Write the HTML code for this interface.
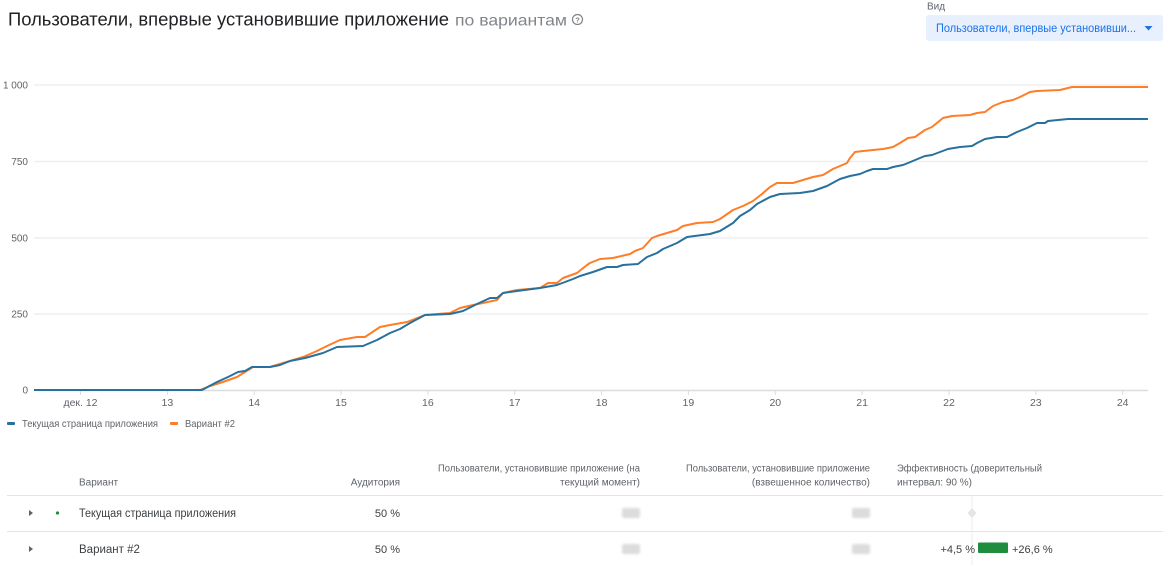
<!DOCTYPE html>
<html><head><meta charset="utf-8"><style>
html,body{margin:0;padding:0;background:#fff;}
svg{display:block;}
text{font-family:"Liberation Sans","Noto Sans CJK SC",sans-serif;}
</style></head><body>
<svg width="1176" height="565" viewBox="0 0 1176 565" xmlns="http://www.w3.org/2000/svg">
<defs><filter id="bl" x="-30%" y="-50%" width="160%" height="200%"><feGaussianBlur stdDeviation="1.2"/></filter></defs>
<rect width="1176" height="565" fill="#fff"/>
<!-- Title -->
<text x="8" y="25.5" font-size="18" fill="#202124" textLength="441" lengthAdjust="spacingAndGlyphs">Пользователи, впервые установившие приложение</text>
<text x="455" y="25.5" font-size="16" fill="#80868b" textLength="112" lengthAdjust="spacingAndGlyphs">по вариантам</text>
<circle cx="577.5" cy="19.5" r="5" fill="none" stroke="#80868b" stroke-width="1.2"/>
<text x="577.5" y="22.5" font-size="7.5" fill="#80868b" text-anchor="middle" font-weight="bold">?</text>
<!-- Dropdown -->
<text x="927" y="9.5" font-size="10" fill="#5f6368">Вид</text>
<rect x="926" y="15" width="237" height="26" rx="3" fill="#e8f0fe"/>
<text x="936" y="32" font-size="11.5" fill="#1a73e8" textLength="200" lengthAdjust="spacingAndGlyphs">Пользователи, впервые установивши...</text>
<path d="M1144.5 26 L1152.5 26 L1148.5 30.5 Z" fill="#1a73e8"/>
<!-- Gridlines -->
<g stroke="#efefef" stroke-width="1.5">
<line x1="34" y1="85" x2="1148" y2="85"/>
<line x1="34" y1="161.5" x2="1148" y2="161.5"/>
<line x1="34" y1="238" x2="1148" y2="238"/>
<line x1="34" y1="314" x2="1148" y2="314"/>
</g>
<line x1="34" y1="390.5" x2="1148" y2="390.5" stroke="#dadce0" stroke-width="1.5"/>
<g stroke="#dadce0" stroke-width="1">
<line x1="80.5" y1="391" x2="80.5" y2="395"/><line x1="167.4" y1="391" x2="167.4" y2="395"/><line x1="254.2" y1="391" x2="254.2" y2="395"/><line x1="341" y1="391" x2="341" y2="395"/><line x1="427.9" y1="391" x2="427.9" y2="395"/><line x1="514.7" y1="391" x2="514.7" y2="395"/><line x1="601.6" y1="391" x2="601.6" y2="395"/><line x1="688.4" y1="391" x2="688.4" y2="395"/><line x1="775.3" y1="391" x2="775.3" y2="395"/><line x1="862.1" y1="391" x2="862.1" y2="395"/><line x1="949" y1="391" x2="949" y2="395"/><line x1="1035.8" y1="391" x2="1035.8" y2="395"/><line x1="1122.7" y1="391" x2="1122.7" y2="395"/>
</g>
<!-- Y labels -->
<g font-size="10" fill="#5f6368" text-anchor="end">
<text x="28" y="88.5">1 000</text>
<text x="28" y="165">750</text>
<text x="28" y="241.5">500</text>
<text x="28" y="317.5">250</text>
<text x="28" y="393.5">0</text>
</g>
<!-- X labels -->
<g font-size="10.5" fill="#5f6368" text-anchor="middle">
<text x="80.5" y="406">дек. 12</text>
<text x="167.4" y="406">13</text>
<text x="254.2" y="406">14</text>
<text x="341" y="406">15</text>
<text x="427.9" y="406">16</text>
<text x="514.7" y="406">17</text>
<text x="601.6" y="406">18</text>
<text x="688.4" y="406">19</text>
<text x="775.3" y="406">20</text>
<text x="862.1" y="406">21</text>
<text x="949" y="406">22</text>
<text x="1035.8" y="406">23</text>
<text x="1122.7" y="406">24</text>
</g>
<!-- Series -->
<polyline fill="none" stroke="#ff7d27" stroke-width="2" stroke-linejoin="round" points="34,390 200,390 210,386 223,382 237,377 253,367 270,367 283,363 290,361 303,357 317,351 327,346 340,340 357,337 365,337 380,327 390,325 407,322 425,315 450,313 460,308 473,305 483,303 497,300 503,293 517,290 540,288 548,283 557,283 563,278 577,273 587,265 590,263 600,259 613,258 630,254 635,251 643,248 652,238 657,236 667,233 677,230 683,226 697,223 713,222 720,219 733,210 743,206 753,201 762,194 770,187 777,183 793,183 803,180 813,177 823,175 833,169 847,163 850,158 855,152 863,151 883,149 893,147 900,143 908,138 915,137 925,130 932,127 943,118 952,116 970,115 977,113 985,112 993,106 1003,102 1013,100 1020,97 1030,92 1037,91 1060,90 1072,87 1148,87"/>
<polyline fill="none" stroke="#28709d" stroke-width="2" stroke-linejoin="round" points="34,390 202,390 217,382 228,377 238,372 245,371 252,367 270,367 280,365 290,361 305,358 323,353 337,347 363,346 377,340 390,333 400,329 410,323 425,315 450,314 463,311 477,304 490,298 497,298 503,293 517,291 540,288 557,285 573,279 580,276 593,272 607,267 617,267 623,265 638,264 647,257 657,253 663,249 677,243 687,237 710,234 720,231 733,223 740,216 750,210 757,204 770,197 780,194 800,193 813,191 827,186 840,179 850,176 860,174 867,171 873,169 887,169 893,167 903,165 908,163 920,158 925,156 932,155 940,152 948,149 960,147 972,146 977,143 985,139 997,137 1007,137 1017,132 1027,128 1037,123 1045,123 1048,121 1068,119 1148,119"/>
<!-- Legend -->
<rect x="7" y="422" width="8" height="3" rx="1" fill="#28709d"/>
<text x="22" y="427" font-size="10.5" fill="#5f6368" textLength="136" lengthAdjust="spacingAndGlyphs">Текущая страница приложения</text>
<rect x="170" y="422" width="8" height="3" rx="1" fill="#ff7d27"/>
<text x="185" y="427" font-size="10.5" fill="#5f6368" textLength="50" lengthAdjust="spacingAndGlyphs">Вариант #2</text>
<!-- Table header -->
<g font-size="10" fill="#5f6368">
<text x="79" y="485.5">Вариант</text>
<text x="400" y="485.5" text-anchor="end">Аудитория</text>
<text x="640" y="471.5" text-anchor="end" textLength="202" lengthAdjust="spacingAndGlyphs">Пользователи, установившие приложение (на</text>
<text x="640" y="485.5" text-anchor="end">текущий момент)</text>
<text x="870" y="471.5" text-anchor="end" textLength="184" lengthAdjust="spacingAndGlyphs">Пользователи, установившие приложение</text>
<text x="870" y="485.5" text-anchor="end">(взвешенное количество)</text>
<text x="897" y="471.5" textLength="145" lengthAdjust="spacingAndGlyphs">Эффективность (доверительный</text>
<text x="897" y="485.5">интервал: 90 %)</text>
</g>
<line x1="7" y1="495.5" x2="1163" y2="495.5" stroke="#e3e3e3" stroke-width="1"/>
<line x1="7" y1="531.5" x2="1163" y2="531.5" stroke="#e3e3e3" stroke-width="1"/>
<line x1="972" y1="496" x2="972" y2="565" stroke="#ececec" stroke-width="1"/>
<!-- Row 1 -->
<path d="M29 510 L33 513 L29 516 Z" fill="#5f6368"/>
<circle cx="57.5" cy="513" r="1.6" fill="#1e8e3e"/>
<text x="79" y="517" font-size="11.5" fill="#3c4043" textLength="157" lengthAdjust="spacingAndGlyphs">Текущая страница приложения</text>
<text x="400" y="517" font-size="11" fill="#3c4043" text-anchor="end">50 %</text>
<g filter="url(#bl)" fill="#dcdcdc">
<rect x="622" y="508" width="18" height="10" rx="2"/>
<rect x="852" y="508" width="18" height="10" rx="2"/>
<rect x="622" y="544" width="18" height="10" rx="2"/>
<rect x="852" y="544" width="18" height="10" rx="2"/>
</g>
<path d="M972 508 L976.5 513 L972 518 L967.5 513 Z" fill="#e3e5e8"/>
<!-- Row 2 -->
<path d="M29 546 L33 549 L29 552 Z" fill="#5f6368"/>
<text x="79" y="553" font-size="11.5" fill="#3c4043">Вариант #2</text>
<text x="400" y="553" font-size="11" fill="#3c4043" text-anchor="end">50 %</text>
<text x="975" y="553" font-size="11" fill="#3c4043" text-anchor="end">+4,5 %</text>
<rect x="978" y="542.5" width="30" height="10.5" rx="1" fill="#1e8e3e"/>
<text x="1012" y="553" font-size="11" fill="#3c4043">+26,6 %</text>
</svg>
</body></html>
